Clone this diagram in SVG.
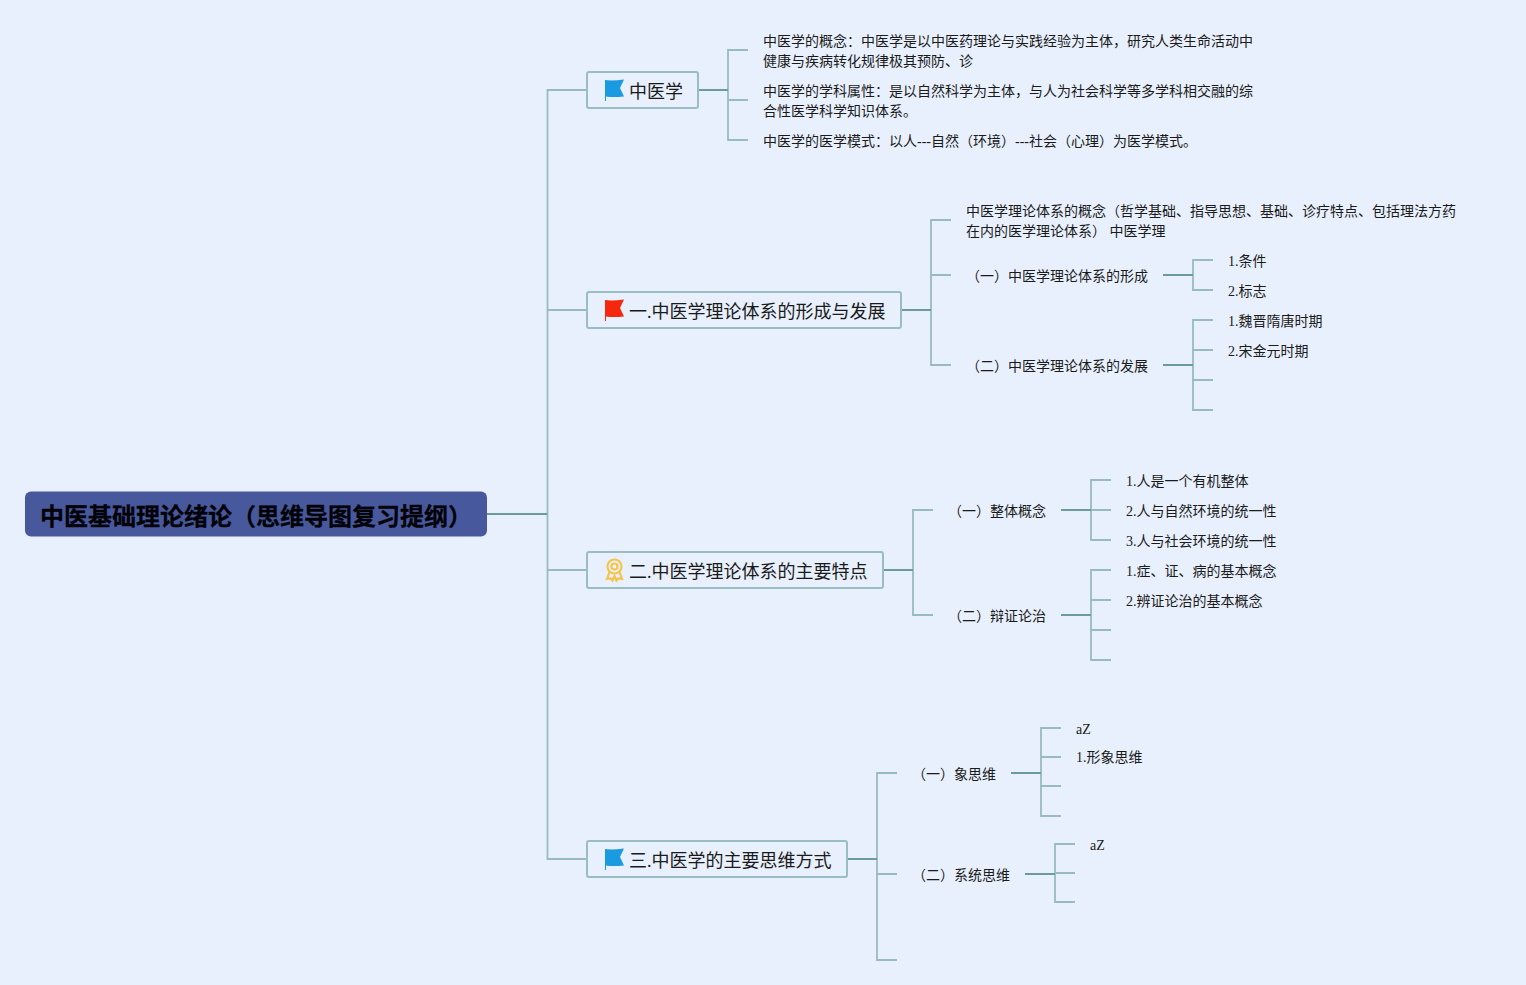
<svg xmlns="http://www.w3.org/2000/svg" width="1526" height="985" viewBox="0 0 1526 985">
<style>
text{font-family:"Liberation Serif","Noto Sans CJK SC",serif;fill:#1a1a1a}
.s{font-size:14px}
.b{font-size:18px}
.r{font-size:24px;font-weight:bold;fill:#020208;stroke:#020208;stroke-width:.3px}
.box{fill:#e8f0fd;stroke:#9abdc4;stroke-width:2}
.l{fill:none;stroke:#97bbc0;stroke-width:1.800}
.d{fill:none;stroke:#6a9c9e;stroke-width:2}
.blue{fill:#1a9ae0}
.red{fill:#f5270f}
</style>
<rect width="1526" height="985" fill="#e8f0fd"/>
<g id="connectors">
<path class="l" d="M587 90H547.500V859H587M547.500 310H587M547.500 570H587"/>
<path class="d" d="M487 514H547"/>
<path class="l" d="M748 50H728V140H748M728 100H748"/>
<path class="d" d="M698 90H728"/>
<path class="l" d="M951 220H931V365H951M931 275H951"/>
<path class="d" d="M901 310H931"/>
<path class="l" d="M1213 260H1193V290H1213"/>
<path class="d" d="M1163 275H1193"/>
<path class="l" d="M1213 320H1193V410H1213M1193 350H1213M1193 380H1213"/>
<path class="d" d="M1163 365H1193"/>
<path class="l" d="M933 510H913V615H933"/>
<path class="d" d="M883 570H913"/>
<path class="l" d="M1111 480H1091V540H1111M1091 510H1111"/>
<path class="d" d="M1061 510H1091"/>
<path class="l" d="M1111 570H1091V660H1111M1091 600H1111M1091 630H1111"/>
<path class="d" d="M1061 615H1091"/>
<path class="l" d="M897 773H877V960H897M877 874H897"/>
<path class="d" d="M847 859H877"/>
<path class="l" d="M1061 728H1041V816H1061M1041 757H1061M1041 786H1061"/>
<path class="d" d="M1011 773H1041"/>
<path class="l" d="M1075 844H1055V902H1075M1055 873H1075"/>
<path class="d" d="M1025 874H1055"/>
</g>
<g id="root">
<rect x="25" y="491.500" width="462" height="45" rx="6" fill="#47599c"/>
<text class="r" x="40" y="524.500">中医基础理论绪论（思维导图复习提纲）</text>
</g>
<g id="n0">
<rect class="box" x="587" y="72" width="111" height="36" rx="2"/>
<path class="blue" d="M605 80Q612 81 624 79.500L620 88L624 96.500Q612 97.500 606 96.500V101H605Z"/>
<text class="b" x="629" y="98">中医学</text>
</g>
<g id="n1">
<text class="s" x="763" y="46">中医学的概念：中医学是以中医药理论与实践经验为主体，研究人类生命活动中</text>
<text class="s" x="763" y="66">健康与疾病转化规律极其预防、诊</text>
</g>
<g id="n2">
<text class="s" x="763" y="96">中医学的学科属性：是以自然科学为主体，与人为社会科学等多学科相交融的综</text>
<text class="s" x="763" y="116">合性医学科学知识体系。</text>
</g>
<g id="n3"><text class="s" x="763" y="146">中医学的医学模式：以人---自然（环境）---社会（心理）为医学模式。</text></g>
<g id="n4">
<rect class="box" x="587" y="292" width="314" height="36" rx="2"/>
<path class="red" d="M605 300Q612 301 624 299.500L620 308L624 316.500Q612 317.500 606 316.500V321H605Z"/>
<text class="b" x="629" y="318">一.中医学理论体系的形成与发展</text>
</g>
<g id="n5">
<text class="s" x="966" y="216">中医学理论体系的概念（哲学基础、指导思想、基础、诊疗特点、包括理法方药</text>
<text class="s" x="966" y="236">在内的医学理论体系） 中医学理</text>
</g>
<g id="n6"><text class="s" x="966" y="281">（一）中医学理论体系的形成</text></g>
<g id="n7"><text class="s" x="1228" y="266">1.条件</text></g>
<g id="n8"><text class="s" x="1228" y="296">2.标志</text></g>
<g id="n9"><text class="s" x="966" y="371">（二）中医学理论体系的发展</text></g>
<g id="n10"><text class="s" x="1228" y="326">1.魏晋隋唐时期</text></g>
<g id="n11"><text class="s" x="1228" y="356">2.宋金元时期</text></g>
<g id="n12">
<rect class="box" x="587" y="552" width="296" height="36" rx="2"/>
<g fill="none" stroke="#f5c54a" stroke-width="2.200">
<circle cx="614.500" cy="566.500" r="7"/>
<circle cx="614.500" cy="566.500" r="3"/>
<path d="M609.500 572L607 579L610.500 578.500L612.500 580.500L614.500 576L616.500 580.500L618.500 578.500L622 579L619.500 572"/>
</g>
<text class="b" x="629" y="578">二.中医学理论体系的主要特点</text>
</g>
<g id="n13"><text class="s" x="948" y="516">（一）整体概念</text></g>
<g id="n14"><text class="s" x="1126" y="486">1.人是一个有机整体</text></g>
<g id="n15"><text class="s" x="1126" y="516">2.人与自然环境的统一性</text></g>
<g id="n16"><text class="s" x="1126" y="546">3.人与社会环境的统一性</text></g>
<g id="n17"><text class="s" x="948" y="621">（二）辩证论治</text></g>
<g id="n18"><text class="s" x="1126" y="576">1.症、证、病的基本概念</text></g>
<g id="n19"><text class="s" x="1126" y="606">2.辨证论治的基本概念</text></g>
<g id="n20">
<rect class="box" x="587" y="841" width="260" height="36" rx="2"/>
<path class="blue" d="M605 849Q612 850 624 848.500L620 857L624 865.500Q612 866.500 606 865.500V870H605Z"/>
<text class="b" x="629" y="867">三.中医学的主要思维方式</text>
</g>
<g id="n21"><text class="s" x="912" y="779">（一）象思维</text></g>
<g id="n22"><text class="s" x="1076" y="734">aZ</text></g>
<g id="n23"><text class="s" x="1076" y="762">1.形象思维</text></g>
<g id="n24"><text class="s" x="912" y="880">（二）系统思维</text></g>
<g id="n25"><text class="s" x="1090" y="850">aZ</text></g>
</svg>
